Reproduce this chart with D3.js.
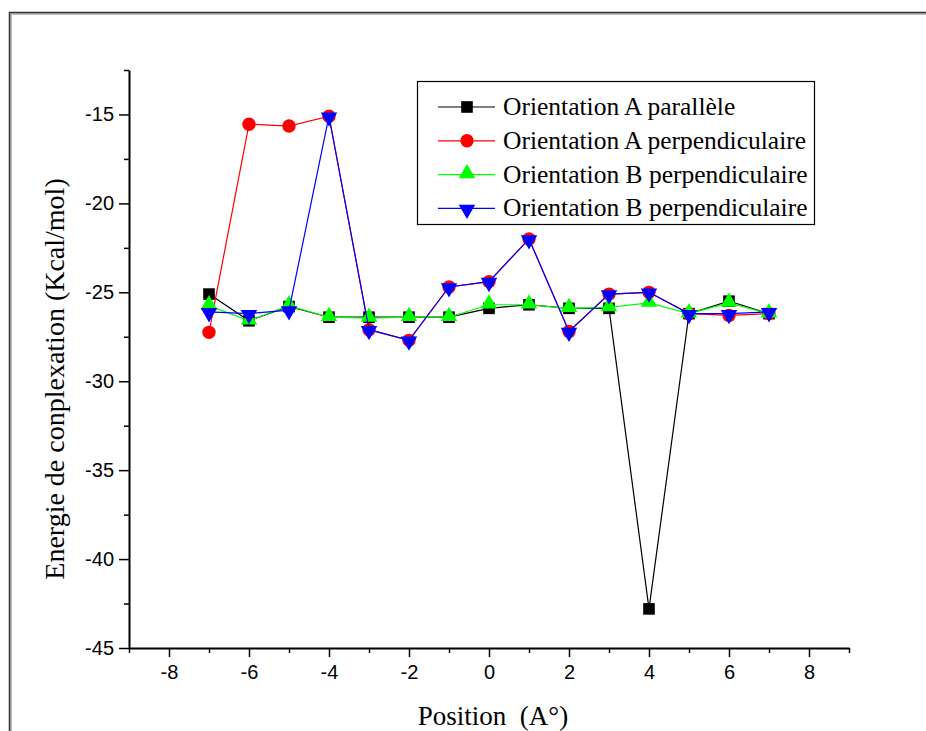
<!DOCTYPE html>
<html>
<head>
<meta charset="utf-8">
<script src="https://cdn.jsdelivr.net/npm/d3@7"></script>
<style>
  body { margin: 0; background: #fff; }
</style>
</head>
<body>
<div id="chart"></div>
<script>
/* Energie de complexation vs position */

const width = 926, height = 731,
    margin = ({ top: 70, right: 77, bottom: 83, left: 129 });

const serif = "'Liberation Serif', 'Times New Roman', 'DejaVu Serif', serif";
const sans = "'Liberation Sans', Arial, sans-serif";

// data
const positions = [-7, -6, -5, -4, -3, -2, -1, 0, 1, 2, 3, 4, 5, 6, 7];
const aParallele = [-25.1, -26.6, -25.8, -26.4, -26.4, -26.4, -26.4, -25.9, -25.7, -25.9, -25.9, -42.8, -26.2, -25.5, -26.2];
const aPerpend = [-27.25, -15.55, -15.65, -15.1, -27.1, -27.7, -24.7, -24.4, -22.0, -27.2, -25.1, -25.0, -26.2, -26.3, -26.2];
const bPerpend = [-25.75, -26.6, -25.75, -26.4, -26.45, -26.4, -26.4, -25.7, -25.7, -25.9, -25.85, -25.6, -26.2, -25.6, -26.2];
const bPerpend2 = [-26.1, -26.2, -26.0, -15.1, -27.1, -27.7, -24.7, -24.4, -22.0, -27.2, -25.1, -25.0, -26.2, -26.2, -26.1];

const seriesNames = ["Orientation A parallèle", "Orientation A perpendiculaire", "Orientation B perpendiculaire", "Orientation B perpendiculaire"];
const seriesColors = ["#000000", "#ff0000", "#00ff00", "#0000ff"];
const seriesSymbols = ["square", "circle", "triangle", "triangleDown"];
const seriesValues = [aParallele, aPerpend, bPerpend, bPerpend2];

const xTicks = [-8, -6, -4, -2, 0, 2, 4, 6, 8];
const yTicks = [-45, -40, -35, -30, -25, -20, -15];

const svg = d3.select("#chart")
    .append("svg")
    .attr("width", width)
    .attr("height", height);

// outer frame (runs off the right and bottom)
svg.append("path")
    .attr("d", `M9.5,${height} V12.5 H${width}`)
    .attr("fill", "none")
    .attr("stroke", "#bbb")
    .attr("stroke-width", 3)
    .attr("transform", "translate(1,1)");
svg.append("path")
    .attr("d", `M9.5,${height} V12.5 H${width}`)
    .attr("fill", "none")
    .attr("stroke", "#333")
    .attr("stroke-width", 1.5);

let x = d3.scaleLinear()
    .domain([-9, 9])
    .range([margin.left, width - margin.right]);

let y = d3.scaleLinear()
    .domain([-45, -12.5])
    .range([height - margin.bottom, margin.top]);

// minor ticks
svg.append("g")
    .attr("transform", `translate(0,${height - margin.bottom})`)
    .call(d3.axisBottom(x).tickValues(d3.range(-9, 10, 2)).tickSize(5).tickFormat(""))
    .call(g => g.select(".domain").remove())
    .selectAll("line").attr("stroke-width", 1.5);
svg.append("g")
    .attr("transform", `translate(${margin.left},0)`)
    .call(d3.axisLeft(y).tickValues(d3.range(-42.5, -12, 5)).tickSize(5).tickFormat(""))
    .call(g => g.select(".domain").remove())
    .selectAll("line").attr("stroke-width", 1.5);

// major axes, plain hyphen for the minus
const xAxis = svg.append("g")
    .attr("transform", `translate(0,${height - margin.bottom})`)
    .call(d3.axisBottom(x).tickValues(xTicks).tickSize(9).tickPadding(8).tickSizeOuter(0).tickFormat(d => String(d)));
const yAxis = svg.append("g")
    .attr("transform", `translate(${margin.left},0)`)
    .call(d3.axisLeft(y).tickValues(yTicks).tickSize(10).tickPadding(5).tickSizeOuter(0).tickFormat(d => String(d)));

[xAxis, yAxis].forEach(a => {
    a.select(".domain").attr("stroke-width", 2);
    a.selectAll(".tick line").attr("stroke-width", 1.5);
    a.selectAll(".tick text")
        .attr("font-family", sans)
        .attr("font-size", 20)
        .attr("fill", "#000");
});

// axis titles
svg.append("text")
    .attr("font-family", serif)
    .attr("font-size", 27)
    .attr("text-anchor", "middle")
    .attr("x", x(0.1))
    .attr("y", 725)
    .attr("xml:space", "preserve")
    .text("Position  (A°)");

svg.append("text")
    .attr("font-family", serif)
    .attr("font-size", 28)
    .attr("text-anchor", "middle")
    .attr("transform", `translate(64,379) rotate(-90)`)
    .text("Energie de conplexation (Kcal/mol)");

// symbols
const sym = {
    square: d3.symbol(d3.symbolSquare, 135),
    circle: d3.symbol(d3.symbolCircle, 140),
    triangle: d3.symbol(d3.symbolTriangle, 118)
};
function symbolPath(kind) {
    return kind === "triangleDown" ? sym.triangle() : sym[kind]();
}
function symbolTransform(kind, px, py) {
    return kind === "triangleDown"
        ? `translate(${px},${py + 1}) rotate(180)`
        : kind === "triangle" ? `translate(${px},${py - 1})` : `translate(${px},${py})`;
}

let line = d3.line()
    .x(d => x(d[0]))
    .y(d => y(d[1]));

seriesValues.forEach((vals, i) => {
    const pts = positions.map((p, j) => [p, vals[j]]);
    svg.append("path")
        .datum(pts)
        .attr("d", line)
        .attr("fill", "none")
        .attr("stroke", seriesColors[i])
        .attr("stroke-width", 1.2);
    svg.append("g")
        .selectAll("path")
        .data(pts)
        .join("path")
        .attr("d", symbolPath(seriesSymbols[i]))
        .attr("transform", d => symbolTransform(seriesSymbols[i], x(d[0]), y(d[1])))
        .attr("fill", seriesColors[i]);
});

// legend
const legend = svg.append("g");
legend.append("rect")
    .attr("x", 417.5).attr("y", 81.5)
    .attr("width", 397).attr("height", 143)
    .attr("fill", "#fff")
    .attr("stroke", "#000")
    .attr("stroke-width", 1.2);

seriesNames.forEach((name, i) => {
    const ly = 107 + i * 33.8;
    legend.append("line")
        .attr("x1", 438).attr("x2", 495)
        .attr("y1", ly).attr("y2", ly)
        .attr("stroke", seriesColors[i])
        .attr("stroke-width", 1.2);
    legend.append("path")
        .attr("d", symbolPath(seriesSymbols[i]))
        .attr("transform", symbolTransform(seriesSymbols[i], 467, ly))
        .attr("fill", seriesColors[i]);
    legend.append("text")
        .attr("font-family", serif)
        .attr("font-size", 25.5)
        .attr("x", 503)
        .attr("y", ly + 8)
        .text(name);
});
</script>
</body>
</html>
